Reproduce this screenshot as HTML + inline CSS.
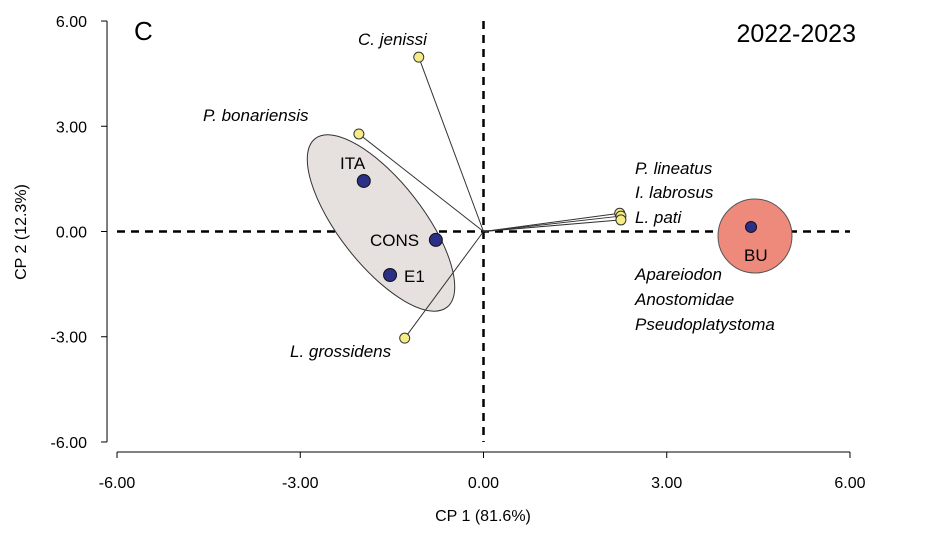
<!DOCTYPE html>
<html><head><meta charset="utf-8"><style>
body{margin:0;background:#fff}
svg{display:block;font-family:"Liberation Sans","DejaVu Sans",sans-serif}
</style></head><body>
<svg id="chart" width="939" height="533" viewBox="0 0 939 533">
<g id="g"></g>
</svg>
<script>
const species=["C. jenissi","P. bonariensis","L. grossidens","P. lineatus","I. labrosus","L. pati"];
const spX=[-1.06,-2.04,-1.29,2.23,2.25,2.25];
const spY=[4.97,2.78,-3.04,0.52,0.44,0.33];
const sites=["ITA","CONS","E1","BU"];
const siteX=[-1.96,-0.78,-1.53,4.38];
const siteY=[1.44,-0.24,-1.24,0.13];
const ticks=[-6,-3,0,3,6];
const tickLabels=["-6.00","-3.00","0.00","3.00","6.00"];
const X=v=>483.5+v*61.08, Y=v=>231.5-v*35.08;
const NS="http://www.w3.org/2000/svg", g=document.getElementById('g');
function mk(t,a,txt){const e=document.createElementNS(NS,t);for(const k in a)e.setAttribute(k,a[k]);if(txt!=null)e.textContent=txt;g.appendChild(e);return e;}
let e=mk('line',{x1:X(-6),y1:Y(-6)+10,x2:X(6),y2:Y(-6)+10,stroke:'#000','stroke-width':1});

e=mk('line',{x1:X(-6)-10,y1:Y(-6),x2:X(-6)-10,y2:Y(6),stroke:'#000','stroke-width':1});

ticks.forEach((t,i)=>{
 let l=mk('line',{x1:X(t),y1:Y(-6)+10,x2:X(t),y2:Y(-6)+16,stroke:'#000'});
 
 let tx=mk('text',{x:X(t),y:Y(-6)+46,'text-anchor':'middle','font-size':16},tickLabels[i]);
 
 l=mk('line',{x1:X(-6)-16,y1:Y(t),x2:X(-6)-10,y2:Y(t),stroke:'#000'});
 
 tx=mk('text',{x:X(-6)-30,y:Y(t)+6,'text-anchor':'end','font-size':16},tickLabels[i]);
 
});
e=mk('line',{x1:X(-6),y1:Y(0),x2:X(6),y2:Y(0),stroke:'#000','stroke-width':2.5,'stroke-dasharray':'8,6'});

e=mk('line',{x1:X(0),y1:Y(6),x2:X(0),y2:Y(-6),stroke:'#000','stroke-width':2.5,'stroke-dasharray':'8,6'});

e=mk('ellipse',{cx:381,cy:223,rx:107,ry:42,transform:'rotate(52 381 223)',fill:'#e6e1df',stroke:'#333','stroke-width':1});

e=mk('circle',{cx:755,cy:236,r:37,fill:'#ee8a7c',stroke:'#555','stroke-width':1});

species.forEach((s,i)=>{
 let l=mk('line',{x1:X(0),y1:Y(0),x2:X(spX[i]),y2:Y(spY[i]),stroke:'#333','stroke-width':1});
 
});
species.forEach((s,i)=>{
 let c=mk('circle',{cx:X(spX[i]),cy:Y(spY[i]),r:5,fill:'#f6ec86',stroke:'#333','stroke-width':1});
 
});
const spLab=[[358,45,'start'],[203,121,'start'],[290,357,'start'],[635,174,'start'],[635,198,'start'],[635,223,'start']];
species.forEach((s,i)=>{
 let t=mk('text',{x:spLab[i][0],y:spLab[i][1],'font-size':17,'font-style':'italic'},s);
 
});
["Apareiodon","Anostomidae","Pseudoplatystoma"].forEach((s,i)=>{
 let t=mk('text',{x:635,y:280+i*25,'font-size':17,'font-style':'italic'},s);
 
});
sites.forEach((s,i)=>{
 let c=mk('circle',{cx:X(siteX[i]),cy:Y(siteY[i]),r:i==3?5.5:6.5,fill:'#2b2f86',stroke:'#111','stroke-width':1});
 
});
const siteLab=[[340,169],[370,246],[404,282],[744,261]];
sites.forEach((s,i)=>{
 let t=mk('text',{x:siteLab[i][0],y:siteLab[i][1],'font-size':17},s);
 
});
e=mk('text',{x:483,y:521,'text-anchor':'middle','font-size':16},'CP 1 (81.6%)');

e=mk('text',{x:26,y:232,'text-anchor':'middle','font-size':16,transform:'rotate(-90 26 232)'},'CP 2 (12.3%)');

e=mk('text',{x:134,y:40,'font-size':26},'C');

e=mk('text',{x:856,y:42,'text-anchor':'end','font-size':25},'2022-2023');

</script>
</body></html>
